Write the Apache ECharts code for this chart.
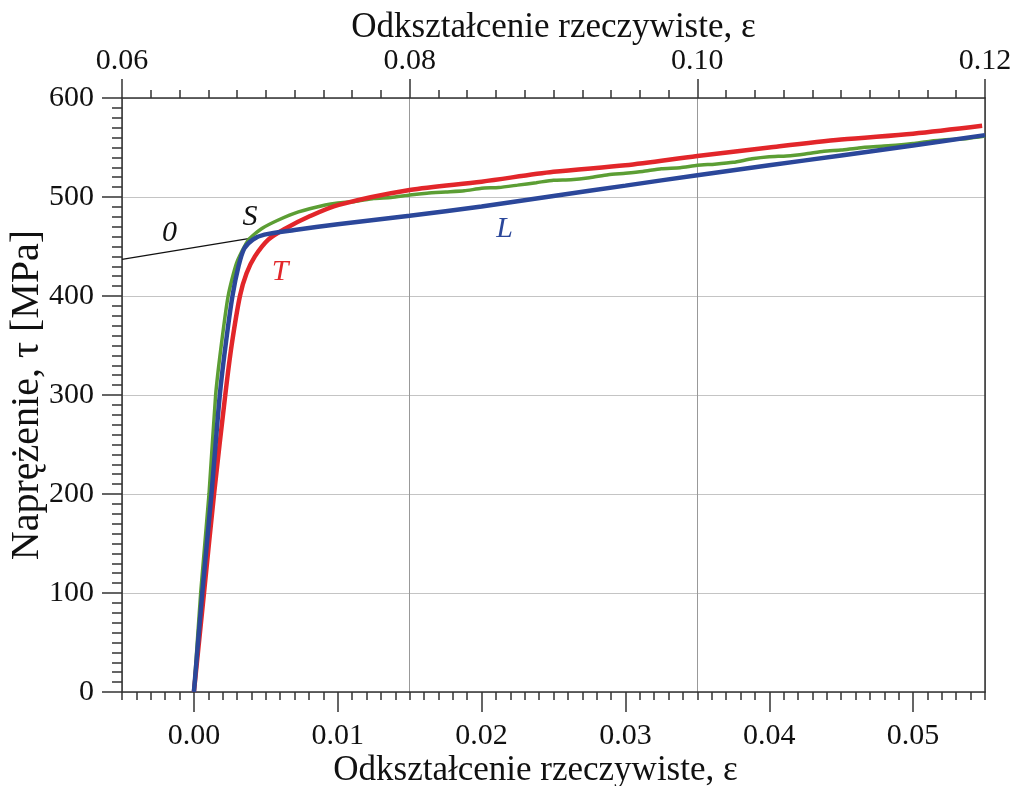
<!DOCTYPE html>
<html lang="pl">
<head>
<meta charset="UTF-8">
<title>Naprężenie - odkształcenie</title>
<script src="https://cdn.jsdelivr.net/npm/echarts@6/dist/echarts.min.js"></script>
<style>
    body { margin: 0; background: #fff; }
    #main { width: 1013px; height: 786px; }
</style>
</head>
<body>
<div id="main"></div>
<script>
    // strain (bottom axis) vs stress [MPa]
    var curveT = [
        [0, 0], [0.0007, 100], [0.0014, 200], [0.00218, 300], [0.00262, 350],
        [0.0032, 400], [0.00366, 423], [0.00424, 440], [0.00517, 457], [0.00634, 468],
        [0.00797, 480], [0.01007, 492], [0.015, 507], [0.02, 515.5], [0.025, 525.5],
        [0.03, 532], [0.035, 541.4], [0.04, 550], [0.045, 558], [0.05, 564], [0.0548, 572]
    ];
    var curveS = [
        [0, 0], [0.00047, 100], [0.00105, 200], [0.00151, 300], [0.0019, 350],
        [0.00238, 400], [0.00296, 433], [0.00378, 456.6], [0.0047, 468], [0.00587, 476.8],
        [0.00727, 485], [0.00914, 492], [0.0100, 494], [0.0112, 495.5], [0.0125, 498.5],
        [0.0137, 499.5], [0.015, 502], [0.0162, 503.8], [0.0175, 505], [0.0188, 506.2],
        [0.02, 508.8], [0.0212, 509.6], [0.0225, 512], [0.0238, 514.5], [0.025, 517],
        [0.0262, 517.5], [0.0275, 519.5], [0.0288, 522.5], [0.03, 524], [0.0312, 525.8],
        [0.0325, 528.5], [0.0338, 529.6], [0.035, 532], [0.0362, 533.2], [0.0375, 535],
        [0.0388, 538.6], [0.04, 540.7], [0.0412, 541.5], [0.0425, 543.5], [0.0438, 546.2],
        [0.045, 547.5], [0.0462, 549.6], [0.0475, 551], [0.0488, 552.2], [0.05, 554],
        [0.0512, 556.4], [0.0525, 558], [0.0538, 559.2], [0.055, 561.6]
    ];
    var curveL = [
        [0, 0], [0.00058, 100], [0.00122, 200], [0.0018, 300], [0.0022, 350],
        [0.00268, 400], [0.0031, 430], [0.0035, 448], [0.0041, 457], [0.0049, 462],
        [0.007, 466.7], [0.01, 472.5], [0.015, 481], [0.02, 490.5], [0.025, 501],
        [0.03, 511.5], [0.035, 522], [0.04, 532], [0.045, 542], [0.05, 552], [0.055, 562.5]
    ];
    var line0 = [[-0.005, 437], [0.004, 458.5]];

    var bottomTicks = [0, 0.01, 0.02, 0.03, 0.04, 0.05];
    var curveLabels = [
        { text: '0', x: -0.0017, y: 464, color: '#111' },
        { text: 'S', x: 0.0039, y: 480, color: '#111' },
        { text: 'T', x: 0.006, y: 424, color: '#e2262a' },
        { text: 'L', x: 0.0216, y: 468, color: '#2b479a' }
    ];

    var FONT = "'Liberation Serif', 'Times New Roman', serif";
    var AXIS_COLOR = '#333';

    var chart = echarts.init(document.getElementById('main'));

    var option = {
        animation: false,
        textStyle: { fontFamily: FONT },
        grid: { left: 122, right: 28, top: 98, bottom: 94, containLabel: false, outerBoundsMode: 'none' },
        xAxis: [
            {   // main bottom axis, minor ticks + labels
                type: 'value', position: 'bottom', min: -0.005, max: 0.055, interval: 0.001,
                axisLine: { show: true, onZero: false, lineStyle: { color: AXIS_COLOR, width: 1.5 } },
                axisTick: { show: true, length: 8, lineStyle: { color: AXIS_COLOR, width: 1.5 } },
                axisLabel: {
                    customValues: bottomTicks, margin: 29, fontSize: 30, color: '#111', fontFamily: FONT,
                    formatter: function (v) { return v.toFixed(2); }
                },
                splitLine: { show: false },
                name: 'Odkształcenie rzeczywiste, ε', nameLocation: 'middle', nameGap: 61, nameMoveOverlap: false,
                nameTextStyle: { fontSize: 35, color: '#111', fontFamily: FONT, padding: [0, 36, 0, 0] }
            },
            {   // bottom major ticks
                type: 'value', position: 'bottom', min: -0.005, max: 0.055,
                axisLine: { show: false, onZero: false },
                axisTick: { show: true, length: 20, customValues: bottomTicks, lineStyle: { color: AXIS_COLOR, width: 1.5 } },
                axisLabel: { show: false },
                splitLine: { show: false }
            },
            {   // top axis, major ticks + labels + grid lines
                type: 'value', position: 'top', min: 0.06, max: 0.12, interval: 0.02,
                axisLine: { show: true, onZero: false, lineStyle: { color: AXIS_COLOR, width: 1.5 } },
                axisTick: { show: true, length: 19, lineStyle: { color: AXIS_COLOR, width: 1.5 } },
                axisLabel: {
                    margin: 22, fontSize: 30, color: '#111', fontFamily: FONT,
                    formatter: function (v) { return v.toFixed(2); }
                },
                splitLine: { show: true, lineStyle: { color: '#999', width: 1 } },
                name: 'Odkształcenie rzeczywiste, ε', nameLocation: 'middle', nameGap: 53, nameMoveOverlap: false,
                nameTextStyle: { fontSize: 35, color: '#111', fontFamily: FONT }
            },
            {   // top minor ticks
                type: 'value', position: 'top', min: 0.06, max: 0.12, interval: 0.002,
                axisLine: { show: false, onZero: false },
                axisTick: { show: true, length: 8, lineStyle: { color: AXIS_COLOR, width: 1.5 } },
                axisLabel: { show: false },
                splitLine: { show: false }
            }
        ],
        yAxis: [
            {
                type: 'value', position: 'left', min: 0, max: 600, interval: 100,
                axisLine: { show: true, onZero: false, lineStyle: { color: AXIS_COLOR, width: 1.5 } },
                axisTick: { show: true, length: 20, lineStyle: { color: AXIS_COLOR, width: 1.5 } },
                minorTick: { show: true, splitNumber: 10, length: 10, lineStyle: { color: AXIS_COLOR, width: 1.5 } },
                axisLabel: { margin: 28, fontSize: 30, color: '#111', fontFamily: FONT },
                splitLine: { show: true, lineStyle: { color: '#c4c4c4', width: 1.2 } },
                name: 'Naprężenie, τ [MPa]', nameLocation: 'middle', nameGap: 75, nameRotate: 90, nameMoveOverlap: false,
                nameTextStyle: { fontSize: 40, color: '#111', fontFamily: FONT }
            },
            {   // right frame
                type: 'value', position: 'right', min: 0, max: 600,
                axisLine: { show: true, onZero: false, lineStyle: { color: AXIS_COLOR, width: 1.5 } },
                axisTick: { show: false }, axisLabel: { show: false }, splitLine: { show: false }
            }
        ],
        series: [
            {
                name: '0', type: 'line', data: line0, symbol: 'none',
                lineStyle: { color: '#111', width: 1.3 }, z: 2
            },
            {
                name: 'S', type: 'line', data: curveS, symbol: 'none', smooth: 0.2,
                lineStyle: { color: '#5c9e34', width: 3.5 }, z: 3
            },
            {
                name: 'L', type: 'line', data: curveL, symbol: 'none', smooth: 0.3,
                lineStyle: { color: '#2b479a', width: 4.5 }, z: 4
            },
            {
                name: 'T', type: 'line', data: curveT, symbol: 'none', smooth: 0.3,
                lineStyle: { color: '#e2262a', width: 4.5 }, z: 3
            },
            {
                name: 'labels', type: 'scatter', symbolSize: 0, z: 10,
                itemStyle: { opacity: 1 },
                data: curveLabels.map(function (d) {
                    return {
                        value: [d.x, d.y], name: d.text,
                        label: {
                            show: true, position: 'inside', formatter: d.text, color: d.color,
                            fontSize: 30, fontStyle: 'italic', fontFamily: FONT, opacity: 1
                        }
                    };
                })
            }
        ]
    };

    chart.setOption(option);
</script>
</body>
</html>
